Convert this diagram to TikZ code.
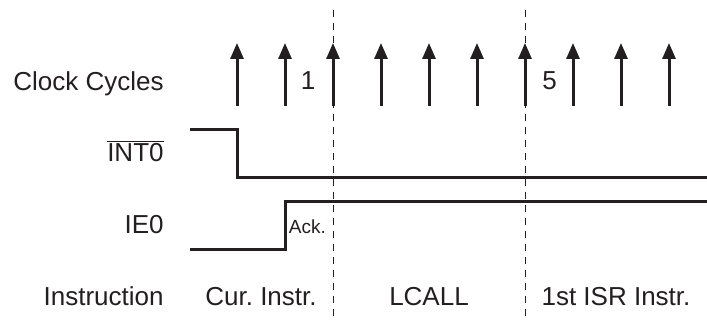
\documentclass[tikz,border=0pt]{standalone}
\usepackage{fontspec}
\setmainfont{Liberation Sans}
\usetikzlibrary{arrows.meta,positioning}
\definecolor{ink}{RGB}{35,31,32}
\frenchspacing
\tikzset{lab/.style={font=\fontsize{13}{15}\selectfont,inner sep=0pt,text=ink},
 sig/.style={line width=1.5pt,draw=ink},
 clk/.style={line width=1.5pt,draw=ink,-{Triangle[length=8pt,width=6.5pt]}},
 sep/.style={line width=.5pt,draw=ink,dash pattern=on 3.5pt off 3pt},
 small/.style={font=\fontsize{9.5}{11}\selectfont,inner sep=0pt,text=ink}}
\begin{document}
\begin{tikzpicture}[x=.5pt,y=-.5pt]
\useasboundingbox (0,0) rectangle (707,320);
% row labels
\node[lab,anchor=base east] (lclk) at (164,91) {Clock Cycles};
\node[lab,anchor=base east] (lint) at (164,162) {$\overline{\hbox{INT0}}$};
\node[lab,anchor=base east] (lie) at (164,234) {IE0};
\node[lab,anchor=base east] (lins) at (164,306) {Instruction};
% cycle boundaries
\draw[sep] (333,10)--(333,320);\draw[sep] (525,10)--(525,320);
% clock edges
\foreach \i in {0,...,9}{
\coordinate (c\i) at (237+48*\i,106);\coordinate (t\i) at (237+48*\i,43);
\draw[clk] (c\i)--(t\i);}
\node[lab,anchor=base] (n1) at (308,90) {1};
\node[lab,anchor=base] (n5) at (549.5,90) {5};
% signals
\draw[sig] (190,130)--(237,130)--(237,178)--(707,178);
\draw[sig] (190,250)--(285,250)--(285,202)--(707,202);
\node[small,anchor=base west] (ack) at (288.5,234) {Ack.};
% instructions
\node[lab,anchor=base] (cur) at (261,306) {Cur.\ Instr.};
\node[lab,anchor=base] (lcall) at (429,306) {LCALL};
\node[lab,anchor=base] (isr) at (616,306) {1st ISR Instr.};
\end{tikzpicture}
\end{document}
